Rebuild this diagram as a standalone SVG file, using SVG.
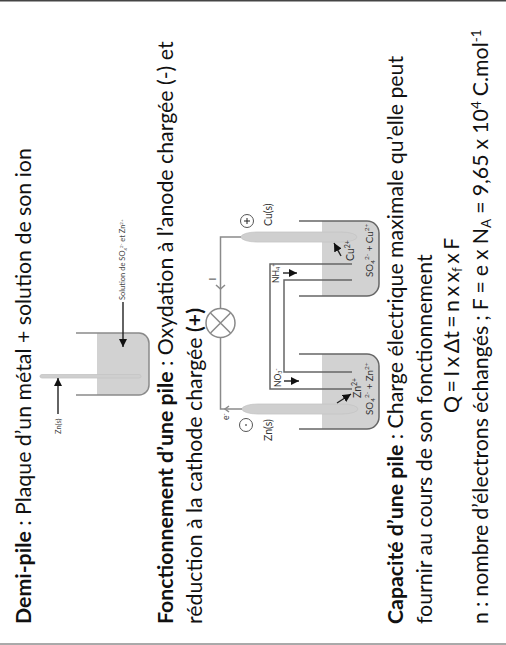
<svg xmlns="http://www.w3.org/2000/svg" width="506" height="645" viewBox="0 0 506 645">
<style>
text{font-family:Lato,"Open Sans","Liberation Sans",sans-serif;fill:#111}
.t{font-size:21.3px}
.b{font-weight:700}
.s{font-size:7.5px;fill:#444}
.m{font-size:10.5px;fill:#333}
.c{font-size:9.8px;fill:#333}
.n{font-size:8.5px;fill:#333}
.l{fill:none;stroke:#8a8a8a;stroke-width:1.5}
.d{fill:none;stroke:#666;stroke-width:1.5}
.a{fill:none;stroke:#222;stroke-width:1.4;marker-end:url(#h)}
.f{fill:#d2d2d2}
.e{fill:#cfcfcf;stroke:#c4c4c4;stroke-width:.8}
</style>
<defs><marker id="h" markerWidth="7" markerHeight="7" refX="6" refY="3" orient="auto"><path d="M0 0L6 3L0 6z" fill="#111"/></marker></defs>
<rect width="506" height="645" fill="#fff"/>
<path d="M0 .5H506" stroke="#444" stroke-width="2"/>
<path d="M0 644H506" stroke="#555" stroke-width="1"/>
<g id="texts">
<text class="t" transform="translate(30.5,624) rotate(-90)"><tspan class="b">Demi-pile</tspan> : Plaque d’un métal + solution de son ion</text>
<text class="t" transform="translate(173,624) rotate(-90)"><tspan class="b">Fonctionnement d’une pile</tspan> : Oxydation à l’anode chargée (-) et</text>
<text class="t" transform="translate(201.5,624) rotate(-90)">réduction à la cathode chargée <tspan class="b">(+)</tspan></text>
<text class="t" transform="translate(403,624) rotate(-90)"><tspan class="b">Capacité d’une pile</tspan> : Charge électrique maximale qu’elle peut</text>
<text class="t" transform="translate(431.5,624) rotate(-90)">fournir au cours de son fonctionnement</text>
<text class="t" word-spacing="-2" transform="translate(459,413) rotate(-90)">Q = I x Δt = n x x<tspan font-size="13.5" dy="3">f</tspan><tspan dy="-3"> x F</tspan></text>
<text class="t" word-spacing="-.4" transform="translate(488,624) rotate(-90)">n : nombre d’électrons échangés ;  F = e x N<tspan font-size="13.5" dy="3">A</tspan><tspan dy="-3"> = 9,65 x 10</tspan><tspan font-size="13.5" dy="-7">4</tspan><tspan dy="7"> C.mol</tspan><tspan font-size="13.5" dy="-7">-1</tspan></text>
</g>
<g id="half-cell">
<path class="f" d="M97 333H139a10 10 0 0 1 10 10V385a10 10 0 0 1 -10 10H97z"/>
<path class="l" d="M76 333H139a10 10 0 0 1 10 10V385a10 10 0 0 1 -10 10H76"/>
<rect class="e" x="40" y="374.500" width="101" height="3.500" rx="2" ry="1.750"/>
<path class="a" d="M58 414V378"/>
<path class="a" d="M123 302V347"/>
<text class="s" transform="translate(61,434) rotate(-90)">Zn(s)</text>
<text class="s" transform="translate(125,300) rotate(-90)">Solution de SO<tspan font-size="4.5" dy="1.500">4</tspan><tspan font-size="4.5" dy="-3.500">2-</tspan><tspan dy="2"> et Zn</tspan><tspan font-size="4.5" dy="-2">2+</tspan></text>
</g>
<g id="cell-cu">
<path class="f" d="M322 221H367a12 12 0 0 1 12 12V284a12 12 0 0 1 -12 12H322z"/>
<path class="d" d="M299 221H367a12 12 0 0 1 12 12V284a12 12 0 0 1 -12 12H299"/>
<rect class="e" x="241" y="232" width="116" height="10" rx="16" ry="5"/>
<circle cx="247" cy="221" r="6.500" fill="#fff" stroke="#555"/>
<path d="M244 221H250M247 218V224" stroke="#222"/>
<text class="m" transform="translate(272,226) rotate(-90)">Cu(s)</text>
<text class="m" transform="translate(354,261) rotate(-90)">Cu<tspan font-size="7" dy="-4">2+</tspan></text>
<text class="c" transform="translate(373,277) rotate(-90)">SO<tspan font-size="6.500" dy="2">4</tspan><tspan font-size="6.500" dy="-6">2-</tspan><tspan dy="4"> + Cu</tspan><tspan font-size="6.500" dy="-4">2+</tspan></text>
<path class="a" d="M341 256L334 243"/>
</g>
<g id="cell-zn">
<path class="f" d="M322 354H367a12 12 0 0 1 12 12V417a12 12 0 0 1 -12 12H322z"/>
<path class="d" d="M299 354H367a12 12 0 0 1 12 12V417a12 12 0 0 1 -12 12H299"/>
<rect class="e" x="242" y="404" width="116" height="10" rx="16" ry="5"/>
<circle cx="246" cy="425" r="6.500" fill="#fff" stroke="#555"/>
<path d="M245 425H247" stroke="#222"/>
<text class="m" transform="translate(272,441) rotate(-90)">Zn(s)</text>
<text class="m" transform="translate(361,398) rotate(-90)">Zn<tspan font-size="7" dy="-4">2+</tspan></text>
<text class="c" transform="translate(373,415) rotate(-90)">SO<tspan font-size="6.500" dy="2">4</tspan><tspan font-size="6.500" dy="-6">2-</tspan><tspan dy="4"> + Zn</tspan><tspan font-size="6.500" dy="-4">2+</tspan></text>
<path class="a" d="M337 403L351 394"/>
</g>
<g id="bulb">
<circle cx="220.500" cy="323" r="14.500" fill="#fff" stroke="#8a8a8a" stroke-width="1.500"/>
<path d="M210.500 313L230.500 333M230.500 313L210.500 333" stroke="#8a8a8a" stroke-width="1.500"/>
</g>
<g id="connectors">
<path class="l" d="M241 237H220.500V308.500M220.500 337.500V409H242"/>
<path class="l" d="M216 285L220.500 289L225 285M229 406L225 409L229 412"/>
<path class="d" d="M352 264H270V389H352M352 280H284V372H352"/>
<path class="a" d="M283 273H297"/>
<path class="a" d="M284 381H299"/>
<text class="n" transform="translate(278.500,283) rotate(-90)">NH<tspan font-size="5.500" dy="1">4</tspan><tspan font-size="5.500" dy="-4">+</tspan></text>
<text class="n" transform="translate(281,387) rotate(-90)">NO<tspan font-size="5.500" dy="1">3</tspan><tspan font-size="5.500" dy="-4">-</tspan></text>
<text class="n" transform="translate(229,420) rotate(-90)">e<tspan font-size="6" dy="-3">-</tspan></text>
<text transform="translate(216,279) rotate(-90)" style="font-size:10px;fill:#444" text-anchor="middle">I</text>
</g>
</svg>
